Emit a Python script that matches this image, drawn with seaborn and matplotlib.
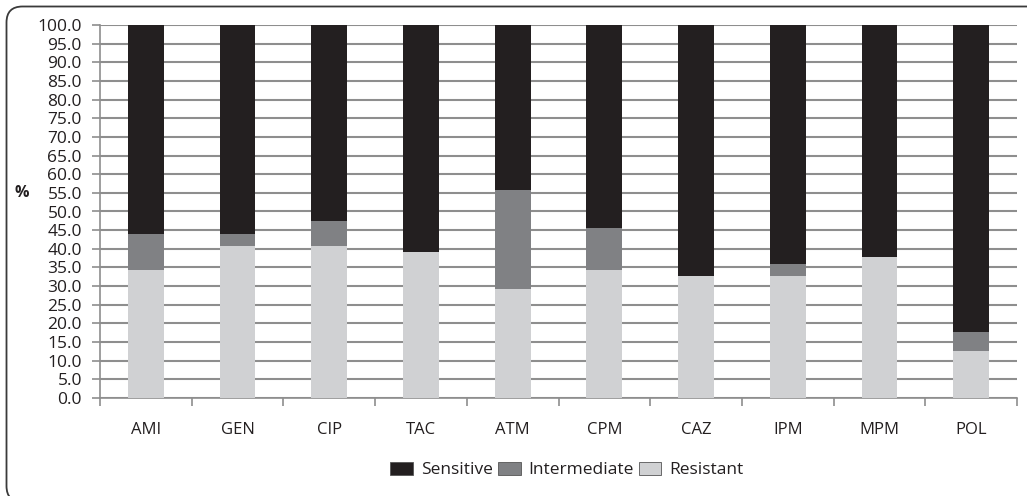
import numpy as np
import pandas as pd
import matplotlib
matplotlib.use("Agg")
import matplotlib.pyplot as plt
from matplotlib.patches import FancyBboxPatch, Patch
import seaborn as sns

# Susceptibility profile per antimicrobial (% of isolates)
drugs = ["AMI", "GEN", "CIP", "TAC", "ATM", "CPM", "CAZ", "IPM", "MPM", "POL"]
resistant = [34.3, 40.7, 40.7, 39.2, 29.3, 34.3, 32.7, 32.7, 37.7, 12.7]
intermediate = [9.8, 3.4, 6.7, 0.0, 26.4, 11.2, 0.0, 3.1, 0.0, 4.9]
sensitive = [55.9, 55.9, 52.6, 60.8, 44.3, 54.5, 67.3, 64.2, 62.3, 82.4]
yticks = np.arange(0, 100.1, 5)

colors = {"Sensitive": "#231f20", "Intermediate": "#808184", "Resistant": "#d0d1d3"}

df = pd.DataFrame({"drug": drugs, "Resistant": resistant,
                   "Intermediate": intermediate, "Sensitive": sensitive})
df["top_R"] = df["Resistant"]
df["top_I"] = df["Resistant"] + df["Intermediate"]
df["top_S"] = df["top_I"] + df["Sensitive"]

sns.set_theme(style="white")
plt.rcParams["font.family"] = ["Open Sans", "DejaVu Sans"]

W, H = 1027, 496
fig = plt.figure(figsize=(W / 100, H / 100), dpi=100)

# rounded frame around the chart (coordinates in inches)
frame = FancyBboxPatch((0.065, -0.06), 10.6, 4.96 - 0.065 + 0.06,
                       transform=fig.dpi_scale_trans,
                       boxstyle="round,pad=0,rounding_size=0.16",
                       fc="none", ec="#3a3a3a", lw=1.3)
fig.patches.append(frame)

x0, x1, y_top, y_bot = 100, 1017, 25, 398
ax = fig.add_axes([x0 / W, (H - y_bot) / H, (x1 - x0) / W, (y_bot - y_top) / H])

width = 0.39
for col, key in [("top_S", "Sensitive"), ("top_I", "Intermediate"), ("top_R", "Resistant")]:
    sns.barplot(data=df, x="drug", y=col, color=colors[key], width=width,
                saturation=1, ax=ax, zorder=3, linewidth=0)

ax.set_xlim(-0.5, len(drugs) - 0.5)
ax.set_ylim(0, 100)
ax.set_yticks(yticks)
ax.set_yticklabels([f"{v:.1f}" for v in yticks], fontsize=12.5, color="#231f20")
ax.set_xticks(range(len(drugs)))
ax.set_xticklabels(drugs, fontsize=12, color="#231f20")
ax.set_xticks(np.arange(-0.5, len(drugs)), minor=True)
ax.tick_params(axis="x", which="major", length=0, pad=17)
ax.tick_params(axis="x", which="minor", length=6, width=1.2, color="#8e8e8e", bottom=True)
ax.tick_params(axis="y", length=6, width=1.2, color="#8e8e8e", left=True, pad=7)
ax.set_xlabel("")
ax.set_ylabel("%", rotation=0, fontsize=11.5, fontweight="bold", color="#231f20",
              va="center", ha="center")
ax.yaxis.set_label_coords((22 - x0) / (x1 - x0), (y_bot - 193) / (y_bot - y_top))

ax.yaxis.grid(True, color="#8e8e8e", lw=1.5, zorder=0)
ax.xaxis.grid(False)
ax.set_axisbelow(True)
for s in ["top", "right"]:
    ax.spines[s].set_visible(False)
for s in ["left", "bottom"]:
    ax.spines[s].set_color("#8e8e8e")
    ax.spines[s].set_linewidth(1.2)

handles = [Patch(facecolor=colors[k], edgecolor="#555555", lw=0.6, label=k)
           for k in ["Sensitive", "Intermediate", "Resistant"]]
fig.legend(handles=handles, loc="center", bbox_to_anchor=(567 / W, 1 - 470 / H),
           ncol=3, frameon=False, fontsize=12.5, handlelength=1.3, handleheight=0.85,
           handletextpad=0.45, columnspacing=0.3, labelcolor="#231f20")

fig.savefig("out.png", dpi=100)
